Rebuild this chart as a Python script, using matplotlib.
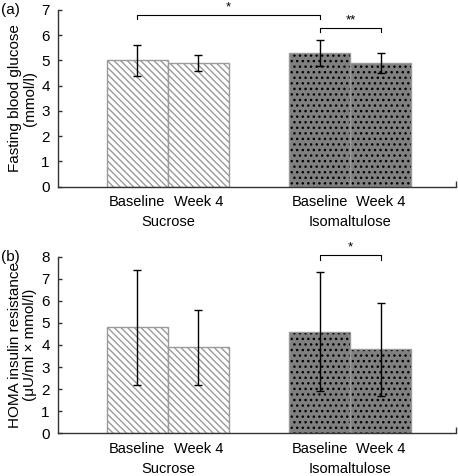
import numpy as np
import matplotlib
matplotlib.use("Agg")
import matplotlib.pyplot as plt
import matplotlib.transforms as mtransforms

# data
groups = ["Sucrose", "Isomaltulose"]
times = ["Baseline", "Week 4"]
glucose_mean = [5.0, 4.9, 5.3, 4.9]
glucose_err = [0.6, 0.3, 0.5, 0.4]
homa_mean = [4.8, 3.9, 4.6, 3.8]
homa_err = [2.6, 1.7, 2.7, 2.1]

plt.rcParams['font.family'] = ['Liberation Sans', 'DejaVu Sans']
plt.rcParams['font.size'] = 10.5
plt.rcParams['hatch.linewidth'] = 1.0

xpos = np.array([1.30, 2.30, 4.29, 5.29])
xmax = 6.52
spine_col = '#333333'
bar_edge = '#9a9a9a'


def draw_panel(ax, means, errs, ylim, ylabel, tag):
    # sucrose: white with grey diagonal hatch
    ax.bar(xpos[:2], means[:2], width=1.0, color='white', edgecolor=bar_edge,
           hatch='\\\\\\\\\\', linewidth=1.0, zorder=2)
    # isomaltulose: grey with black dots
    ax.bar(xpos[2:], means[2:], width=1.0, color='#808080', edgecolor='black',
           hatch='...', linewidth=0, zorder=2)
    ax.bar(xpos[2:], means[2:], width=1.0, fill=False, edgecolor=bar_edge,
           linewidth=1.0, zorder=2)
    ax.errorbar(xpos, means, yerr=errs, fmt='none', ecolor='black',
                elinewidth=1.0, capsize=3, capthick=1.0, zorder=3)

    ax.set_xlim(0, xmax)
    ax.set_ylim(*ylim)
    ax.set_yticks(np.arange(ylim[0], ylim[1] + 1, 1))
    ax.tick_params(axis='y', direction='in', length=3, width=1,
                   color=spine_col, pad=6, labelsize=11)
    ax.set_xticks(xpos)
    ax.set_xticklabels(times * 2)
    ax.tick_params(axis='x', which='major', length=0, pad=6, labelsize=10.5)
    ax.set_xticks([xmax], minor=True)
    ax.tick_params(axis='x', which='minor', direction='in', length=4,
                   width=1, color=spine_col)
    for s in ['top', 'right']:
        ax.spines[s].set_visible(False)
    for s in ['left', 'bottom']:
        ax.spines[s].set_color(spine_col)
        ax.spines[s].set_linewidth(1.0)

    trans = mtransforms.blended_transform_factory(ax.transData, ax.transAxes)
    ax.text((xpos[0] + xpos[1]) / 2, -0.2, groups[0], transform=trans,
            ha='center', va='center', fontsize=10.5)
    ax.text((xpos[2] + xpos[3]) / 2, -0.2, groups[1], transform=trans,
            ha='center', va='center', fontsize=10.5)

    ax.set_ylabel(ylabel, fontsize=11, linespacing=1.1, labelpad=3)
    ax.text(-0.142, 1.0, tag, transform=ax.transAxes, ha='left', va='center',
            fontsize=11)


def bracket(ax, x0, x1, y, drop, label, ly):
    ax.plot([x0, x0, x1, x1], [y - drop, y, y, y - drop], color='black',
            lw=0.8, clip_on=False, zorder=4)
    ax.text((x0 + x1) / 2, ly, label, ha='center', va='center',
            fontsize=9.5, clip_on=False)


fig = plt.figure(figsize=(4.58, 4.76), dpi=100)
ax1 = fig.add_axes([58 / 458, 1 - 186.7 / 476, 398 / 458, 176.7 / 476])
ax2 = fig.add_axes([58 / 458, 1 - 433.3 / 476, 398 / 458, 176.6 / 476])

draw_panel(ax1, glucose_mean, glucose_err, (0, 7),
           'Fasting blood glucose\n(mmol/l)', '(a)')
draw_panel(ax2, homa_mean, homa_err, (0, 8),
           'HOMA insulin resistance\n(\u03bcU/ml \u00d7 mmol/l)', '(b)')

bracket(ax1, xpos[0], xpos[2], 6.8, 0.16, '*', 7.12)
bracket(ax1, xpos[2], xpos[3], 6.27, 0.16, '**', 6.58)
bracket(ax2, xpos[2], xpos[3], 8.08, 0.23, '*', 8.42)

fig.savefig('out.png', dpi=100)
